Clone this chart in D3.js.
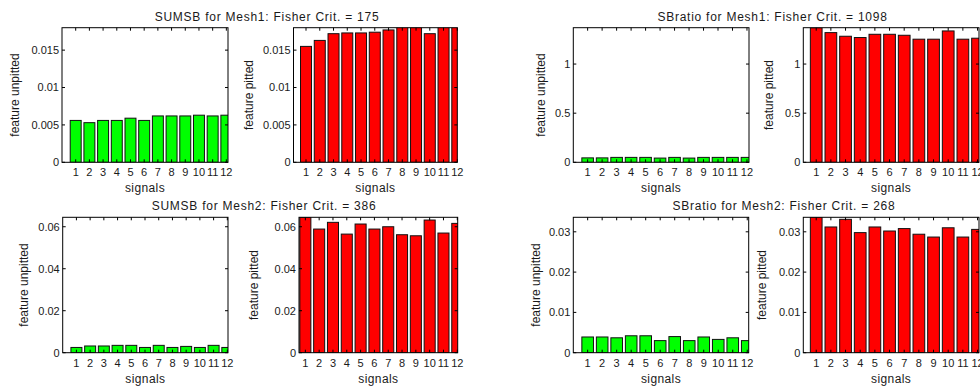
<!DOCTYPE html>
<html>
<head>
<meta charset="utf-8">
<script src="https://cdn.jsdelivr.net/npm/d3@7"></script>
<style>
  body { margin: 0; background: #fff; }
  svg { display: block; font-family: "Liberation Sans", Arial, sans-serif; }
  text { fill: #1a1a1a; }
</style>
</head>
<body>
<div id="chart"></div>
<script>
// signals on the x axis
const signals = [1, 2, 3, 4, 5, 6, 7, 8, 9, 10, 11, 12];

// feature values
const sumsbMesh1Unpitted = [0.0056, 0.0053, 0.0056, 0.0056, 0.0059, 0.0056, 0.0062, 0.0062, 0.0062, 0.0063, 0.0062, 0.0063];
const sumsbMesh1Pitted = [0.0155, 0.0163, 0.0172, 0.0173, 0.0173, 0.0174, 0.0177, 0.0182, 0.0181, 0.0172, 0.0185, 0.0186];
const sbratioMesh1Unpitted = [0.045, 0.045, 0.05, 0.05, 0.05, 0.043, 0.05, 0.043, 0.05, 0.05, 0.05, 0.05];
const sbratioMesh1Pitted = [1.37, 1.32, 1.283, 1.27, 1.303, 1.303, 1.293, 1.253, 1.253, 1.337, 1.253, 1.263];
const sumsbMesh2Unpitted = [0.0025, 0.0032, 0.0032, 0.0035, 0.0035, 0.0025, 0.0035, 0.0025, 0.003, 0.0025, 0.0035, 0.0025];
const sumsbMesh2Pitted = [0.0645, 0.0589, 0.0621, 0.0565, 0.0613, 0.0589, 0.06, 0.0562, 0.0557, 0.0632, 0.057, 0.0616];
const sbratioMesh2Unpitted = [0.0039, 0.0039, 0.0037, 0.0042, 0.0042, 0.003, 0.004, 0.003, 0.0039, 0.0033, 0.0037, 0.003];
const sbratioMesh2Pitted = [0.0337, 0.0312, 0.0331, 0.0298, 0.0312, 0.0302, 0.0308, 0.0294, 0.0287, 0.031, 0.0287, 0.0306];

// y limits and ticks
const yMax = { sumsb1: 0.018, sbratio1: 1.37, sumsb2: 0.0645, sbratio2: 0.0336 };
const ticksSumsb1 = [0, 0.005, 0.01, 0.015];
const ticksSbratio1 = [0, 0.5, 1];
const ticksSumsb2 = [0, 0.02, 0.04, 0.06];
const ticksSbratio2 = [0, 0.01, 0.02, 0.03];

// Fisher criterion per feature / mesh
const fisherCrit = { sumsb1: 175, sbratio1: 1098, sumsb2: 386, sbratio2: 268 };

const width = 980, height = 388;
const green = '#00ff00', red = '#ff0000';

const panels = [
  { values: sumsbMesh1Unpitted, color: green, label: 'feature unpitted', box: [62, 228, 27.7, 162.3], xdom: [0, 12.12], ymax: yMax.sumsb1, ticks: ticksSumsb1, labelX: 19 },
  { values: sumsbMesh1Pitted, color: red, label: 'feature pitted', box: [293.5, 457.3, 27.7, 162.3], xdom: [0.09, 12.0], ymax: yMax.sumsb1, ticks: ticksSumsb1, labelX: 253 },
  { values: sbratioMesh1Unpitted, color: green, label: 'feature unpitted', box: [573.3, 749, 27.7, 162.3], xdom: [0.01, 12.14], ymax: yMax.sbratio1, ticks: ticksSbratio1, labelX: 545 },
  { values: sbratioMesh1Pitted, color: red, label: 'feature pitted', box: [803.3, 979, 27.7, 162.3], xdom: [0.12, 12.1], ymax: yMax.sbratio1, ticks: ticksSbratio1, labelX: 773 },
  { values: sumsbMesh2Unpitted, color: green, label: 'feature unpitted', box: [62.7, 228, 217.3, 352.7], xdom: [0, 12.05], ymax: yMax.sumsb2, ticks: ticksSumsb2, labelX: 28 },
  { values: sumsbMesh2Pitted, color: red, label: 'feature pitted', box: [299, 457.7, 217.3, 352.7], xdom: [0.54, 12.03], ymax: yMax.sumsb2, ticks: ticksSumsb2, labelX: 258 },
  { values: sbratioMesh2Unpitted, color: green, label: 'feature unpitted', box: [573.3, 748.7, 217.3, 352.7], xdom: [0.01, 12.1], ymax: yMax.sbratio2, ticks: ticksSbratio2, labelX: 540 },
  { values: sbratioMesh2Pitted, color: red, label: 'feature pitted', box: [803.3, 979, 217.3, 352.7], xdom: [0.12, 12.1], ymax: yMax.sbratio2, ticks: ticksSbratio2, labelX: 766 },
];

const titles = [
  { text: `SUMSB for Mesh1: Fisher Crit. = ${fisherCrit.sumsb1}`, x: 267, y: 21 },
  { text: `SBratio for Mesh1: Fisher Crit. = ${fisherCrit.sbratio1}`, x: 772.5, y: 21 },
  { text: `SUMSB for Mesh2: Fisher Crit. = ${fisherCrit.sumsb2}`, x: 264, y: 210 },
  { text: `SBratio for Mesh2: Fisher Crit. = ${fisherCrit.sbratio2}`, x: 784, y: 210 },
];

const svg = d3.select('#chart').append('svg')
  .attr('width', width)
  .attr('height', height);

const tickLen = 3;

panels.forEach((p, i) => {
  const [x0, x1, y0, y1] = p.box;
  const x = d3.scaleLinear().domain(p.xdom).range([x0, x1]);
  const y = d3.scaleLinear().domain([0, p.ymax]).range([y1, y0]);
  const g = svg.append('g');

  svg.append('clipPath').attr('id', `clip${i}`)
    .append('rect').attr('x', x0).attr('y', y0).attr('width', x1 - x0).attr('height', y1 - y0);

  // bars
  g.append('g').attr('clip-path', `url(#clip${i})`)
    .selectAll('rect')
    .data(p.values)
    .join('rect')
    .attr('x', (d, j) => x(signals[j] - 0.4))
    .attr('width', (d, j) => x(signals[j] + 0.4) - x(signals[j] - 0.4))
    .attr('y', d => y(d))
    .attr('height', d => y(0) - y(d))
    .attr('fill', p.color)
    .attr('stroke', '#111')
    .attr('stroke-width', 1);

  // ticks, inward on all four sides
  const ticks = g.append('g').attr('stroke', '#000').attr('stroke-width', 1);
  signals.forEach(s => {
    const sx = x(s);
    if (sx > x1 + 0.5) return;
    ticks.append('line').attr('x1', sx).attr('x2', sx).attr('y1', y1).attr('y2', y1 - tickLen);
    ticks.append('line').attr('x1', sx).attr('x2', sx).attr('y1', y0).attr('y2', y0 + tickLen);
  });
  p.ticks.forEach(t => {
    const ty = y(t);
    ticks.append('line').attr('x1', x0).attr('x2', x0 + tickLen).attr('y1', ty).attr('y2', ty);
    ticks.append('line').attr('x1', x1).attr('x2', x1 - tickLen).attr('y1', ty).attr('y2', ty);
  });

  // box
  g.append('rect')
    .attr('x', x0).attr('y', y0)
    .attr('width', x1 - x0).attr('height', y1 - y0)
    .attr('fill', 'none')
    .attr('stroke', '#000')
    .attr('stroke-width', 1);

  // tick labels
  g.append('g').selectAll('text')
    .data(signals)
    .join('text')
    .attr('x', d => x(d))
    .attr('y', y1 + 14)
    .attr('text-anchor', 'middle')
    .style('font-size', '11px')
    .text(d => d);

  g.append('g').selectAll('text')
    .data(p.ticks)
    .join('text')
    .attr('x', x0 - 3)
    .attr('y', d => y(d))
    .attr('dy', '0.35em')
    .attr('text-anchor', 'end')
    .style('font-size', '11px')
    .text(d => String(d));

  // axis labels
  g.append('text')
    .attr('x', (x0 + Math.min(x1, 979)) / 2)
    .attr('y', y1 + 30)
    .attr('text-anchor', 'middle')
    .style('font-size', '12px')
    .style('letter-spacing', '0.4px')
    .text('signals');

  g.append('text')
    .attr('transform', `translate(${p.labelX},${(y0 + y1) / 2}) rotate(-90)`)
    .attr('text-anchor', 'middle')
    .style('font-size', '12px')
    .text(p.label);
});

svg.append('g').selectAll('text')
  .data(titles)
  .join('text')
  .attr('x', d => d.x)
  .attr('y', d => d.y)
  .attr('text-anchor', 'middle')
  .style('font-size', '12px')
  .style('letter-spacing', '0.75px')
  .text(d => d.text);
</script>
</body>
</html>
